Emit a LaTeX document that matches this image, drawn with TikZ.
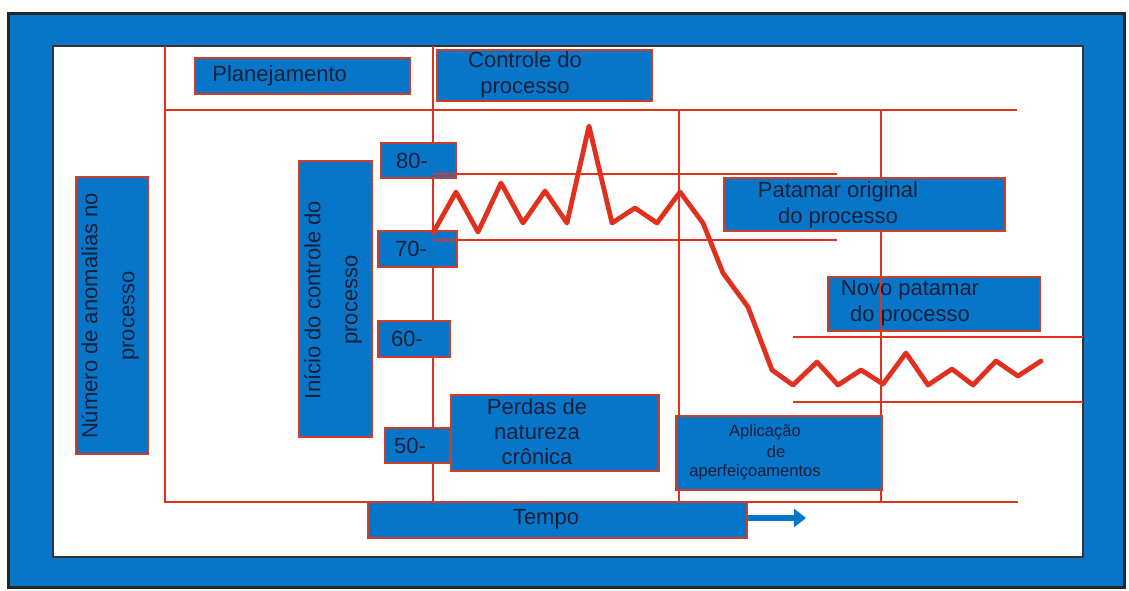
\documentclass[tikz,border=0pt]{standalone}
\usepackage{fontspec}
\setmainfont{Liberation Sans}
\usetikzlibrary{fit,arrows.meta}
\definecolor{frameblue}{RGB}{8,118,200}
\definecolor{gridred}{RGB}{226,48,30}
\definecolor{edgered}{RGB}{205,62,40}
\definecolor{ink}{RGB}{20,32,58}
\begin{document}
\begin{tikzpicture}[x=0.5pt,y=-0.5pt,
  box/.style={draw=edgered, fill=frameblue, line width=0.8pt, inner sep=0pt},
  gridline/.style={draw=gridred, line width=1pt},
  zig/.style={draw=gridred, line width=2.4pt, line join=round, line cap=round},
  lbl/.style={text=ink, font=\fontsize{11}{13}\selectfont, align=center, inner sep=0pt},
  vlbl/.style={lbl, rotate=90, font=\fontsize{11}{18.5}\selectfont},
  small/.style={lbl, font=\fontsize{8.25}{10}\selectfont}]
\useasboundingbox (0,0) rectangle (1129,590);
\fill[white] (0,0) rectangle (1129,590);

% frame
\draw[fill=frameblue, draw=black!85, line width=1.5pt] (8,13) rectangle (1124,587);
\draw[fill=white, draw=black!80, line width=1pt] (53,46) rectangle (1083,557);

% grid
\draw[gridline] (165,46) -- (165,502) -- (1018,502);
\draw[gridline] (165,110) -- (1017,110);
\draw[gridline] (433,46) -- (433,502);
\draw[gridline] (679,110) -- (679,502);
\draw[gridline] (881,110) -- (881,502);
\draw[gridline] (433,174) -- (837,174);
\draw[gridline] (433,240) -- (837,240);
\draw[gridline] (793,337) -- (1083,337);
\draw[gridline] (793,402) -- (1083,402);

% boxes
\node[box, fit={(195,58) (410,94)}] (plan) {};
\node[box, fit={(437,50) (652,101)}] (ctrl) {};
\node[box, fit={(76,177) (148,454)}] (anom) {};
\node[box, fit={(299,161) (372,437)}] (inicio) {};
\node[box, fit={(381,143) (456,178)}] (v80) {};
\node[box, fit={(378,231) (457,267)}] (v70) {};
\node[box, fit={(378,321) (450,357)}] (v60) {};
\node[box, fit={(385,428) (450,463)}] (v50) {};
\node[box, fit={(451,395) (659,471)}] (perdas) {};
\node[box, fit={(676,416) (882,490)}] (aplic) {};
\node[box, fit={(368,502) (747,538)}] (tempo) {};
\node[box, fit={(724,178) (1005,231)}] (orig) {};
\node[box, fit={(828,277) (1040,331)}] (novo) {};

% lines running over the boxes
\draw[gridline] (881,277) -- (881,331);
\draw[gridline] (433,174) -- (456,174);
\draw[gridline] (433,240) -- (457,240);

% time arrow
\coordinate (tempotip) at (806,518);
\draw[frameblue, line width=3pt, -{Triangle[length=6pt,width=9pt]}] (tempo.east |- tempotip) -- (tempotip);

% anomaly curve
\draw[zig] (433,233) -- (456,192) -- (478,232) -- (501,183) -- (523,223)
  -- (545,191) -- (567,223) -- (589,126) -- (612,223) -- (635,208)
  -- (657,223) -- (680,192) -- (703,223) -- (723,273) -- (748,307)
  -- (772,370) -- (793,385) -- (817,362) -- (838,385) -- (861,370)
  -- (883,384) -- (906,353) -- (928,385) -- (952,369) -- (973,385)
  -- (996,361) -- (1018,376) -- (1041,361);

% labels
\node[lbl, anchor=west] (tplan) at (212,76) {Planejamento};
\node[lbl] (tctrl) at (525,75) {Controle do\\processo};
\node[vlbl] (tanom) at (110,316) {Número de anomalias no\\processo};
\node[vlbl] (tinicio) at (333,300) {Início do controle do\\processo};
\node[lbl] (t80) at (412,161) {80-};
\node[lbl] (t70) at (411,249) {70-};
\node[lbl] (t60) at (407,339) {60-};
\node[lbl] (t50) at (410,446) {50-};
\node[lbl, font=\fontsize{11}{12.5}\selectfont] (tperdas) at (537,432) {Perdas de\\natureza\\crônica};
\node[small] (tap1) at (765,432) {Aplicação};
\node[small] (tap2) at (776,452) {de};
\node[small] (tap3) at (755,472) {aperfeiçoamentos};
\node[lbl] (ttempo) at (546,519) {Tempo};
\node[lbl] (torig) at (838,205) {Patamar original\\do processo};
\node[lbl] (tnovo) at (910,303) {Novo patamar\\do processo};
\end{tikzpicture}
\end{document}
